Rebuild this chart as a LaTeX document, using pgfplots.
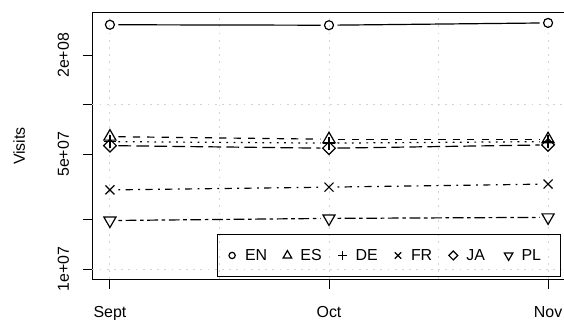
\documentclass[border=0pt]{standalone}
\usepackage{fontspec}
\setmainfont{Liberation Sans}
\usepackage{pgfplots}
\pgfplotsset{compat=1.18}
\definecolor{lgray}{HTML}{D3D3D3}
\tikzset{
  ltydashed/.style={dash pattern=on 7.2bp off 7.2bp},
  ltydotted/.style={dash pattern=on 1.8bp off 5.4bp},
  ltydotdash/.style={dash pattern=on 1.8bp off 5.4bp on 7.2bp off 5.4bp},
  ltylongdash/.style={dash pattern=on 12.6bp off 5.4bp},
  ltytwodash/.style={dash pattern=on 3.6bp off 3.6bp on 10.8bp off 3.6bp},
}
\pgfplotsset{
  seg/.style={no marks, line width=1.2bp, black, shorten <=8.5bp, shorten >=8.5bp, forget plot},
  pts/.style={only marks, line width=1.2bp, black, mark options={solid}},
}
\begin{document}
\begin{tikzpicture}[font=\fontsize{16}{19}\selectfont]
\begin{axis}[
  at={(92.4bp,40.8bp)}, anchor=south west,
  width=473.2bp, height=266.2bp, scale only axis,
  xmin=0.92, xmax=3.08,
  ymode=log, ymin=8.71e6, ymax=3.62e8,
  xtick={1,2,3}, xticklabels={Sept,Oct,Nov},
  ytick={1e7,2e7,5e7,1e8,2e8},
  yticklabels={1e+07,,5e+07,,2e+08},
  minor ytick={}, 
  log basis y=10,
  tick pos=left, tick align=outside,
  major tick length=9.6bp,
  minor tick length=0pt,
  every tick/.style={black, line width=1bp},
  axis line style={black, line width=1bp},
  /pgf/number format/assume math mode=true,
  xticklabel style={anchor=base, yshift=-28.4bp, font=\fontsize{16}{19}\selectfont},
  yticklabel style={xshift=-13.8bp, rotate=90, anchor=base, font=\fontsize{16}{19}\selectfont},
  ylabel={Visits},
  every axis y label/.style={at={(axis description cs:0,0.5)}, xshift=-67.4bp, rotate=90, anchor=base},
  extra x ticks={1,1.5,2,2.5,3}, extra x tick labels={,,,,},
  extra y ticks={1e7,1e8}, extra y tick labels={,},
  extra tick style={grid=major, major tick length=0pt},
  major grid style={lgray, line width=1bp, dash pattern=on 1.8bp off 5.4bp},
  legend columns=6,
  legend cell align=left,
  legend image code/.code={
    \path[draw=none, fill=none] (-6bp,-5.75bp) rectangle (6bp,5.75bp);
    \draw[#1, every mark/.append style={scale=0.7}] plot[only marks] coordinates {(0bp,0bp)};
  },
  legend style={at={(0.9903,0.0094)}, anchor=south east, draw=black, line width=0.8bp, fill=none,
    inner xsep=9bp, inner ysep=14.5bp, column sep=0pt, nodes={inner sep=0pt},
    /tikz/every odd column/.append style={column sep=7bp},
    /tikz/every even column/.append style={column sep=6.3bp},
    font=\fontsize{16}{19}\selectfont},
]
% EN
\addplot[pts, mark=o, mark size=4.5bp] coordinates {(1,3.07e8) (2,3.05e8) (3,3.15e8)};
\addlegendentry{\makebox[30bp][l]{EN}}
% ES
\addplot[pts, mark=triangle, mark size=7bp] coordinates {(1,6.41e7) (2,6.18e7) (3,6.18e7)};
\addlegendentry{\makebox[30bp][l]{ES}}
% DE
\addplot[pts, mark=+, mark size=6.36bp] coordinates {(1,5.98e7) (2,5.85e7) (3,5.98e7)};
\addlegendentry{\makebox[30bp][l]{DE}}
% FR
\addplot[pts, mark=x, mark size=6.36bp] coordinates {(1,3.04e7) (2,3.16e7) (3,3.30e7)};
\addlegendentry{\makebox[30bp][l]{FR}}
% JA
\addplot[pts, mark=diamond, mark size=6.36bp, mark options={solid, xscale=1.333}] coordinates {(1,5.65e7) (2,5.45e7) (3,5.71e7)};
\addlegendentry{\makebox[30bp][l]{JA}}
% PL
\addplot[pts, mark=triangle, mark size=7bp, mark options={solid, rotate=180}] coordinates {(1,1.98e7) (2,2.04e7) (3,2.07e7)};
\addlegendentry{\makebox[30bp][l]{PL}}
% line segments (type "b": broken at points)
\addplot[seg, solid] coordinates {(1,3.07e8) (2,3.05e8)};
\addplot[seg, solid] coordinates {(2,3.05e8) (3,3.15e8)};
\addplot[seg, ltydashed] coordinates {(1,6.41e7) (2,6.18e7)};
\addplot[seg, ltydashed] coordinates {(2,6.18e7) (3,6.18e7)};
\addplot[seg, ltydotted] coordinates {(1,5.98e7) (2,5.85e7)};
\addplot[seg, ltydotted] coordinates {(2,5.85e7) (3,5.98e7)};
\addplot[seg, ltydotdash] coordinates {(1,3.04e7) (2,3.16e7)};
\addplot[seg, ltydotdash] coordinates {(2,3.16e7) (3,3.30e7)};
\addplot[seg, ltylongdash] coordinates {(1,5.65e7) (2,5.45e7)};
\addplot[seg, ltylongdash] coordinates {(2,5.45e7) (3,5.71e7)};
\addplot[seg, ltytwodash] coordinates {(1,1.98e7) (2,2.04e7)};
\addplot[seg, ltytwodash] coordinates {(2,2.04e7) (3,2.07e7)};
\end{axis}
\pgfresetboundingbox
\useasboundingbox (0,0) rectangle (564bp,320bp);
\end{tikzpicture}
\end{document}
